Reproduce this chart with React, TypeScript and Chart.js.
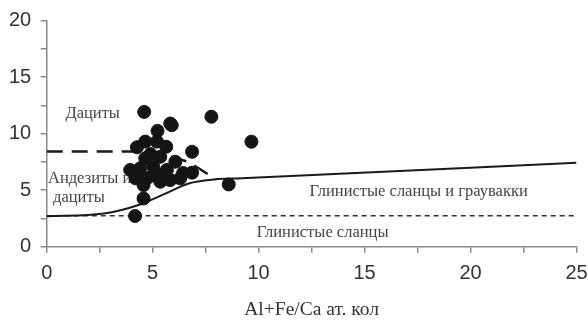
import React, { useEffect, useRef } from "react";
import { Chart, registerables } from "chart.js";

Chart.register(...registerables);

// Sample points (Al+Fe/Ca, Y)
const pointsX = [4.6, 7.77, 5.83, 5.9, 5.23, 4.26, 4.65, 5.2, 5.64, 6.86, 4.65, 5.36, 6.07, 3.94, 4.41, 5.03, 5.67, 6.86, 6.44, 4.2, 4.73, 5.36, 5.83, 6.3, 4.57, 8.59, 4.57, 4.17, 9.66, 5.0, 5.5, 4.9];
const pointsY = [11.93, 11.5, 10.9, 10.75, 10.25, 8.8, 9.3, 9.3, 8.85, 8.4, 7.82, 7.96, 7.52, 6.79, 6.94, 7.08, 6.79, 6.55, 6.52, 6.05, 6.05, 5.75, 5.9, 6.05, 5.45, 5.51, 4.27, 2.72, 9.29, 6.3, 6.4, 8.2];

// Solid boundary curve
const curveX = [0, 2.7, 4.3, 5.6, 6.7, 7.9, 9.2, 25];
const curveY = [2.7, 2.94, 3.67, 4.7, 5.6, 5.95, 6.05, 7.43];

// Long-dashed boundary
const dashX = [0, 5.0, 6.7, 8.0];
const dashY = [8.43, 8.43, 7.5, 5.95];

// Short-dashed boundary
const shortDashX = [0, 25];
const shortDashY = [2.75, 2.75];

// Field labels
const labelTexts = ["Дациты", "Андезиты и", "дациты", "Глинистые сланцы и граувакки", "Глинистые сланцы"];
const labelX = [2.17, 0.06, 0.3, 17.55, 13.02];
const labelY = [11.74, 5.99, 4.31, 4.88, 1.21];
const labelAlign: CanvasTextAlign[] = ["center", "left", "left", "center", "center"];

const xTitle = "Al+Fe/Ca ат. кол";

const zip = (xs: number[], ys: number[]) => xs.map((x, i) => ({ x, y: ys[i] }));

const textPlugin = {
  id: "fieldLabels",
  beforeDatasetsDraw(chart: any) {
    const { ctx, scales } = chart;
    ctx.save();
    ctx.fillStyle = "#444";
    ctx.font = "16.5px 'Liberation Serif', 'DejaVu Serif', serif";
    ctx.textBaseline = "middle";
    labelTexts.forEach((t, i) => {
      ctx.textAlign = labelAlign[i];
      ctx.fillText(t, scales.x.getPixelForValue(labelX[i]), scales.y.getPixelForValue(labelY[i]));
    });
    ctx.restore();
  },
};

export default function App() {
  const ref = useRef<HTMLCanvasElement>(null);
  useEffect(() => {
    document.body.style.margin = "0";
    const axisColor = "#8a8a8a";
    const tickFont = { family: "'Liberation Sans', Arial, sans-serif", size: 20 };
    const chart = new Chart(ref.current!, {
      type: "scatter",
      data: {
        datasets: [
          {
            data: zip(pointsX, pointsY),
            backgroundColor: "#141414",
            borderColor: "#141414",
            pointRadius: 6.5,
            order: 0,
          },
          {
            data: zip(curveX, curveY),
            showLine: true,
            borderColor: "#1a1a1a",
            borderWidth: 2,
            pointRadius: 0,
            cubicInterpolationMode: "monotone",
            order: 1,
          } as any,
          {
            data: zip(dashX, dashY),
            showLine: true,
            borderColor: "#1a1a1a",
            borderWidth: 2.5,
            borderDash: [16, 9],
            pointRadius: 0,
            order: 1,
          },
          {
            data: zip(shortDashX, shortDashY),
            showLine: true,
            borderColor: "#333",
            borderWidth: 1.5,
            borderDash: [5, 4],
            pointRadius: 0,
            order: 1,
          },
        ],
      },
      options: {
        animation: false,
        responsive: true,
        maintainAspectRatio: false,
        layout: { padding: { left: 0, right: 11.5, top: 20.7, bottom: 0 } },
        plugins: { legend: { display: false }, tooltip: { enabled: false } },
        scales: {
          x: {
            type: "linear",
            min: 0,
            max: 25,
            afterFit: (s: any) => { s.height = 75.3; s.paddingLeft = 0; s.paddingRight = 0; },
            border: { display: true, color: axisColor, width: 1.5 },
            grid: { drawOnChartArea: false, drawTicks: true, tickLength: 6, color: axisColor, lineWidth: 1.5 },
            ticks: {
              stepSize: 2.5,
              autoSkip: false,
              maxRotation: 0,
              padding: 9,
              color: "#333",
              font: tickFont,
              callback: (v: any) => (Number(v) % 5 === 0 ? String(v) : ""),
            },
            title: {
              display: true,
              text: xTitle,
              color: "#333",
              font: { family: "'Liberation Serif', 'DejaVu Serif', serif", size: 19.5 },
              padding: { top: 0, bottom: 0 },
            },
          },
          y: {
            type: "linear",
            min: 0,
            max: 20,
            afterFit: (s: any) => { s.width = 46.7; s.paddingTop = 0; s.paddingBottom = 0; },
            border: { display: true, color: axisColor, width: 1.5 },
            grid: { drawOnChartArea: false, drawTicks: true, tickLength: 6, color: axisColor, lineWidth: 1.5 },
            ticks: {
              stepSize: 2.5,
              autoSkip: false,
              padding: 9.5,
              color: "#333",
              font: tickFont,
              callback: (v: any) => (Number(v) % 5 === 0 ? String(v) : ""),
            },
          },
        },
      },
      plugins: [textPlugin],
    });
    return () => chart.destroy();
  }, []);
  return (
    <div style={{ position: "fixed", left: 0, top: 0, width: 588, height: 322, background: "#fff" }}>
      <canvas ref={ref} />
    </div>
  );
}
